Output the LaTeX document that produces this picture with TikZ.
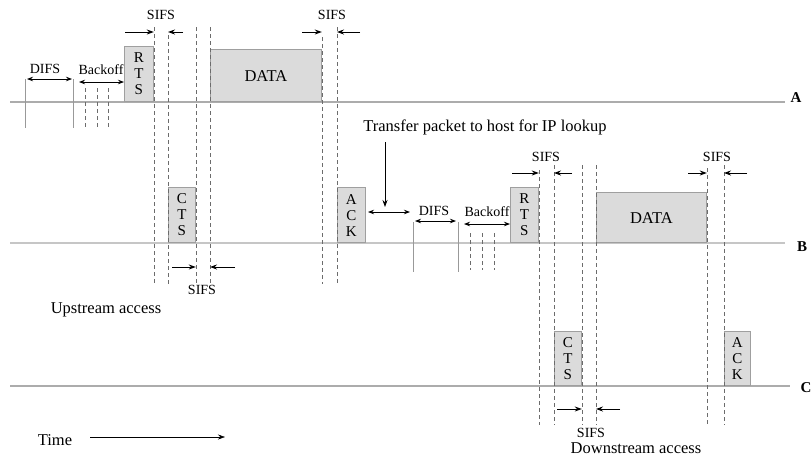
\documentclass[tikz,border=0pt]{standalone}
\usepackage{fontspec}
\setmainfont{Liberation Serif}
\usetikzlibrary{arrows.meta}

\tikzset{
  frame/.style={draw=gray!75,fill=gray!28,line width=0.8pt,inner sep=0pt,
    anchor=south west,align=center,font=\fontsize{15}{16}\selectfont},
  station/.style={draw=gray!65,line width=1.1pt},
  guide/.style={draw=gray!85!black,dash pattern=on 4pt off 3pt,line width=0.6pt},
  tick/.style={draw=gray!80,line width=0.8pt},
  gaparrow/.style={-{Stealth[length=7pt,width=5pt]},line width=0.9pt},
  spanarrow/.style={{Stealth[length=6pt,width=4.5pt]}-{Stealth[length=6pt,width=4.5pt]},line width=0.8pt},
  lbl/.style={font=\fontsize{14}{15}\selectfont,inner sep=0pt},
  big/.style={font=\fontsize{16.5}{18}\selectfont,inner sep=0pt},
  stn/.style={font=\bfseries\fontsize{15}{17}\selectfont,inner sep=0pt},
}

\begin{document}
\begin{tikzpicture}[x=1pt,y=-1pt]
\useasboundingbox (0,0) rectangle (812,456);
% station lines
\node[stn] (labA) at (796,98) {A};
\node[stn] (labB) at (802,247) {B};
\node[stn] (labC) at (806,388) {C};
\draw[station] (10,102) -- (785,102);
\draw[station,draw=gray!45] (10,243) -- (785,243);
\draw[station] (10,386) -- (790,386);
% frames on A
\node[frame,minimum width=29pt,minimum height=55pt] (rtsA) at (124,102) {R\\T\\S};
\node[frame,minimum width=111pt,minimum height=52pt,font=\fontsize{16.5}{18}\selectfont] (dataA) at (210,102) {DATA};
% frames on B
\node[frame,minimum width=27pt,minimum height=55pt] (ctsB) at (168,243) {C\\T\\S};
\node[frame,minimum width=28pt,minimum height=55pt] (ackB) at (337,243) {A\\C\\K};
\node[frame,minimum width=28pt,minimum height=55pt] (rtsB) at (510,243) {R\\T\\S};
\node[frame,minimum width=110pt,minimum height=50pt,font=\fontsize{16.5}{18}\selectfont] (dataB) at (596,243) {DATA};
% frames on C
\node[frame,minimum width=27pt,minimum height=54pt] (ctsC) at (554,386) {C\\T\\S};
\node[frame,minimum width=26pt,minimum height=54pt] (ackC) at (724,386) {A\\C\\K};
% upstream guides
\foreach \n/\a/\t in {rtsA/east/27,ctsB/west/35,ctsB/east/27,dataA/west/27,dataA/east/37,ackB/west/27}
  \draw[guide] (\n.\a |- 0,\t) -- (\n.\a |- 0,284);
% downstream guides
\foreach \n/\a/\t in {rtsB/east/170,ctsC/west/165,ctsC/east/165,dataB/west/165,dataB/east/168,ackC/west/165}
  \draw[guide] (\n.\a |- 0,\t) -- (\n.\a |- 0,425);
% SIFS gaps
\node[lbl] (sifsA1) at (161,15) {SIFS};
\draw[gaparrow] (125,32) -- (rtsA.east |- 0,32);
\draw[gaparrow] (183,32) -- (ctsB.west |- 0,32);
\node[lbl] (sifsA2) at (332,15) {SIFS};
\draw[gaparrow] (302,32) -- (dataA.east |- 0,32);
\draw[gaparrow] (360,32) -- (ackB.west |- 0,32);
\node[lbl] (sifsB1) at (202,290) {SIFS};
\draw[gaparrow] (172,267) -- (ctsB.east |- 0,267);
\draw[gaparrow] (235,267) -- (dataA.west |- 0,267);
\node[lbl] (sifsB2) at (546,157) {SIFS};
\draw[gaparrow] (512,173) -- (rtsB.east |- 0,173);
\draw[gaparrow] (572,173) -- (ctsC.west |- 0,173);
\node[lbl] (sifsB3) at (717,157) {SIFS};
\draw[gaparrow] (688,173) -- (dataB.east |- 0,173);
\draw[gaparrow] (747,173) -- (ackC.west |- 0,173);
\node[lbl] (sifsC) at (591,433) {SIFS};
\draw[gaparrow] (557,409) -- (ctsC.east |- 0,409);
\draw[gaparrow] (620,409) -- (dataB.west |- 0,409);
% contention on A
\draw[tick] (25,79) -- (25,128);
\draw[tick] (73,79) -- (73,128);
\node[lbl] (difsA) at (45,69) {DIFS};
\draw[spanarrow] (27,79) -- (72,79);
\node[lbl] (boffA) at (101,70) {Backoff};
\draw[spanarrow] (79,82) -- (rtsA.west |- 0,82);
\foreach \x in {85,97,108}
  \draw[guide] (\x,88) -- (\x,128);
% relay to host, contention on B
\node[big] (xfer) at (485,127) {Transfer packet to host for IP lookup};
\draw[gaparrow,line width=0.8pt] (385,142) -- (385,207);
\draw[spanarrow] (368,212) -- (410,212);
\draw[tick] (413,222) -- (413,272);
\draw[tick] (458,222) -- (458,272);
\node[lbl] (difsB) at (434,211) {DIFS};
\draw[spanarrow] (415,221) -- (456,221);
\node[lbl] (boffB) at (487,212) {Backoff};
\draw[spanarrow] (464,224) -- (rtsB.west |- 0,224);
\foreach \x in {470,482,494}
  \draw[guide] (\x,233) -- (\x,270);
% captions
\node[big] (up) at (106,310) {Upstream access};
\node[big] (down) at (636,448) {Downstream access};
\node[big] (time) at (55,440) {Time};
\draw[gaparrow,line width=0.6pt] ([xshift=18pt]time.east |- 0,437) -- (225,437);
\end{tikzpicture}
\end{document}
